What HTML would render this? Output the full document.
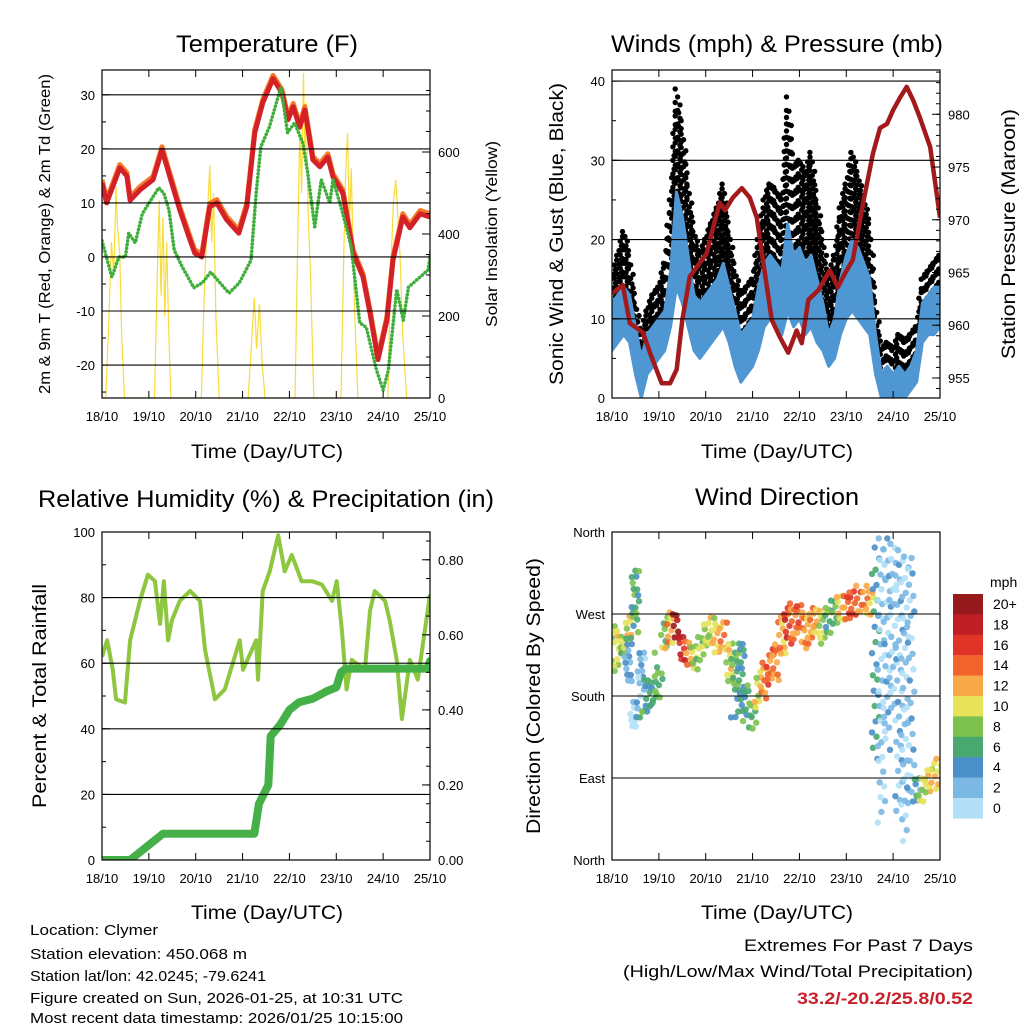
<!DOCTYPE html>
<html><head><meta charset="utf-8"><style>
html,body{margin:0;padding:0;background:#fff;}
svg{display:block;font-family:"Liberation Sans",Arial,sans-serif;}
</style></head><body>
<svg id="chart" width="1024" height="1024" viewBox="0 0 1024 1024" xmlns="http://www.w3.org/2000/svg">
<defs>
<clipPath id="c1"><rect x="102" y="70" width="328" height="328"/></clipPath>
<clipPath id="c2"><rect x="612" y="70" width="328" height="328"/></clipPath>
<clipPath id="c3"><rect x="102" y="532" width="328" height="328"/></clipPath>
<clipPath id="c4"><rect x="612" y="532" width="328" height="328"/></clipPath>
</defs>
<rect width="1024" height="1024" fill="#fff"/>
<g id="layer"></g>
<text x="267" y="52" font-size="24" text-anchor="middle" textLength="182" lengthAdjust="spacingAndGlyphs">Temperature (F)</text>
<text x="777" y="52" font-size="24" text-anchor="middle" textLength="332" lengthAdjust="spacingAndGlyphs">Winds (mph) &amp; Pressure (mb)</text>
<text x="266" y="507" font-size="24" text-anchor="middle" textLength="456" lengthAdjust="spacingAndGlyphs">Relative Humidity (%) &amp; Precipitation (in)</text>
<text x="777" y="505" font-size="24" text-anchor="middle" textLength="164" lengthAdjust="spacingAndGlyphs">Wind Direction</text>
<text transform="translate(50,234) rotate(-90)" font-size="16" text-anchor="middle" textLength="320" lengthAdjust="spacingAndGlyphs">2m &amp; 9m T (Red, Orange) &amp; 2m Td (Green)</text>
<text transform="translate(497,234) rotate(-90)" font-size="16" text-anchor="middle" textLength="186" lengthAdjust="spacingAndGlyphs">Solar Insolation (Yellow)</text>
<text transform="translate(563,234) rotate(-90)" font-size="19" text-anchor="middle" textLength="302" lengthAdjust="spacingAndGlyphs">Sonic Wind &amp; Gust (Blue, Black)</text>
<text transform="translate(1015,234) rotate(-90)" font-size="19" text-anchor="middle" textLength="250" lengthAdjust="spacingAndGlyphs">Station Pressure (Maroon)</text>
<text transform="translate(46,696) rotate(-90)" font-size="19" text-anchor="middle" textLength="224" lengthAdjust="spacingAndGlyphs">Percent &amp; Total Rainfall</text>
<text transform="translate(540,696) rotate(-90)" font-size="19" text-anchor="middle" textLength="276" lengthAdjust="spacingAndGlyphs">Direction (Colored By Speed)</text>
<text x="267" y="458" font-size="19" text-anchor="middle" textLength="152" lengthAdjust="spacingAndGlyphs">Time (Day/UTC)</text>
<text x="777" y="458" font-size="19" text-anchor="middle" textLength="152" lengthAdjust="spacingAndGlyphs">Time (Day/UTC)</text>
<text x="267" y="919" font-size="19" text-anchor="middle" textLength="152" lengthAdjust="spacingAndGlyphs">Time (Day/UTC)</text>
<text x="777" y="919" font-size="19" text-anchor="middle" textLength="152" lengthAdjust="spacingAndGlyphs">Time (Day/UTC)</text>
<g font-size="15">
<text x="30" y="935" textLength="128" lengthAdjust="spacingAndGlyphs">Location: Clymer</text>
<text x="30" y="959" textLength="217" lengthAdjust="spacingAndGlyphs">Station elevation: 450.068 m</text>
<text x="30" y="981" textLength="236" lengthAdjust="spacingAndGlyphs">Station lat/lon: 42.0245; -79.6241</text>
<text x="30" y="1003" textLength="373" lengthAdjust="spacingAndGlyphs">Figure created on Sun, 2026-01-25, at 10:31 UTC</text>
<text x="30" y="1023" textLength="373" lengthAdjust="spacingAndGlyphs">Most recent data timestamp: 2026/01/25 10:15:00</text>
</g>
<g font-size="17" text-anchor="end">
<text x="973" y="951" textLength="229" lengthAdjust="spacingAndGlyphs">Extremes For Past 7 Days</text>
<text x="973" y="977" textLength="350" lengthAdjust="spacingAndGlyphs">(High/Low/Max Wind/Total Precipitation)</text>
<text x="973" y="1004" font-weight="bold" fill="#c8202a" textLength="176" lengthAdjust="spacingAndGlyphs">33.2/-20.2/25.8/0.52</text>
</g>
<g id="cbar"></g>
</svg>
<script>
// ---------- DATA ----------
const dayLabels = ["18/10","19/10","20/10","21/10","22/10","23/10","24/10","25/10"];
const tempDays = [0,0.1,0.38,0.53,0.6,0.81,1.09,1.28,1.45,1.66,1.88,1.98,2.13,2.3,2.45,2.66,2.92,3.09,3.26,3.43,3.65,3.84,3.97,4.08,4.22,4.33,4.5,4.65,4.82,4.93,5.14,5.36,5.57,5.72,5.89,6.08,6.21,6.42,6.57,6.79,7.0];
const tempVals = [13.7,10,16.5,15,10.5,12.4,14.3,19.8,14.8,8.7,3.1,0.7,0,9.3,10,6.9,4.4,9.3,23,28.5,33,30.4,25.4,27.8,24,27.2,18,16.7,18.5,14.8,11.8,0.7,-3.7,-10.4,-19,-11.7,-0.6,7.4,5.4,8,7.4];
const dewDays = [0,0.21,0.36,0.5,0.57,0.71,0.86,1.21,1.32,1.43,1.54,1.71,1.96,2.14,2.32,2.5,2.71,2.93,3.18,3.29,3.39,3.57,3.82,3.96,4.11,4.29,4.39,4.54,4.68,4.86,4.93,5.14,5.32,5.5,5.64,5.86,6.0,6.11,6.29,6.43,6.54,6.79,6.96,7.05];
const dewVals = [3,-3.7,0,0,4.4,2.6,8,12.8,11.8,8.7,1.3,-1.8,-5.7,-4.8,-2.8,-4.6,-6.7,-4.8,-0.6,11.8,20.4,24,31.5,23,24.8,21,15.6,5.6,14.3,10,14.3,8,1.9,-12.2,-13,-21,-24.6,-21,-6,-11.7,-5.6,-3.7,-2.4,3];
const solarDays = [0,0.08,0.15,0.2,0.25,0.3,0.33,0.38,0.42,0.48,1.12,1.18,1.22,1.26,1.3,1.34,1.38,1.42,1.47,2.12,2.18,2.25,2.3,2.34,2.38,2.43,2.5,3.12,3.2,3.25,3.3,3.36,3.42,3.48,4.12,4.18,4.22,4.26,4.3,4.33,4.36,4.4,4.45,4.52,5.1,5.16,5.2,5.24,5.28,5.32,5.38,5.46,6.1,6.16,6.22,6.27,6.31,6.36,6.42,6.5,7];
const solarVals = [0,0,200,380,300,515,420,350,150,0,0,300,483,250,440,200,380,180,0,0,250,450,568,380,500,200,0,0,150,244,120,230,80,0,0,400,650,500,793,600,720,450,300,0,0,350,550,646,420,560,250,0,0,300,480,532,450,350,150,0,0];
const pressDays = [0,0.23,0.38,0.66,0.81,1.06,1.24,1.38,1.5,1.66,1.84,2.02,2.16,2.3,2.41,2.58,2.77,2.94,3.09,3.22,3.41,3.58,3.76,3.94,4.05,4.19,4.4,4.65,4.82,4.97,5.14,5.36,5.57,5.72,5.87,6.0,6.15,6.29,6.43,6.57,6.79,7.0];
const pressVals = [963,963.8,960.2,959.3,957.4,954.5,954.5,955.8,960.5,964.6,965.7,966.8,969.3,971.6,970.9,972.1,973,972.1,970.2,966.2,960.5,958.9,957.4,959.5,958.3,962.4,963.3,965.2,963.6,964.9,966.2,971.6,976.3,978.7,979.1,980.4,981.6,982.6,981.3,979.7,976.9,970.2];
const windLo = [6,7,8,7,3,0,3,4,5,6,9,14,12,9,6,5,6,7,8,9,7,4,2,3,4,6,9,10,9,8,11,9,10,8,9,7,6,4,5,8,10,11,10,9,8,3,0,0,0,0,0,1,2,7,8,8,9];
const windHi = [12,13,14,13,9,5,8,9,10,11,16,26,23,18,13,12,13,14,15,17,14,11,8,9,10,14,17,18,17,16,22,18,19,17,18,15,12,8,10,15,18,20,19,17,15,8,3,4,3,4,3,4,6,12,13,14,14];
const windGust = [15,18,21,18,12,8,11,13,14,17,25,39,34,27,21,18,20,22,24,27,21,16,13,14,15,20,25,27,26,25,38,29,30,28,31,25,20,15,18,24,27,31,28,25,22,12,6,7,6,8,7,8,9,15,16,17,18];
const rhDays = [0,0.11,0.23,0.30,0.49,0.60,0.81,0.98,1.13,1.24,1.32,1.41,1.49,1.66,1.88,2.09,2.20,2.41,2.62,2.94,3.01,3.29,3.33,3.43,3.58,3.76,3.90,4.05,4.26,4.48,4.69,4.91,5.01,5.12,5.22,5.33,5.61,5.72,5.82,6.04,6.14,6.29,6.40,6.57,6.74,7.0];
const rhVals = [62,67,58,49,48,67,79,87,85,72,85,67,73,79,82,79,64,49,52,67,58,67,55,82,88,99,88,93,85,85,84,79,85,70,52,61,58,76,82,79,73,61,43,61,55,81];
const precipDays = [0,0.6,0.8,1.0,1.2,1.3,3.25,3.35,3.55,3.6,3.8,4.0,4.2,4.5,4.8,5.0,5.1,5.2,6.95,7.0];
const precipVals = [0,0,0.02,0.04,0.06,0.07,0.07,0.15,0.2,0.33,0.36,0.40,0.42,0.43,0.45,0.46,0.50,0.51,0.51,0.53];
const dirCenter = [240,235,230,250,260,190,180,185,195,250,255,260,235,230,225,235,250,255,245,250,220,210,200,175,160,190,200,215,220,250,260,265,270,255,260,265,260,265,275,280,280,285,290,290,285,230,200,240,260,200,180,200,80,80,90,95,100];
const dirSpread = [15,15,15,20,60,40,20,15,15,15,15,10,10,10,10,10,10,12,12,12,20,20,40,15,10,15,15,15,15,20,15,15,10,15,15,10,15,10,10,10,10,10,8,8,10,110,150,110,90,140,150,130,10,10,10,8,8];
const speedLabels = ["20+","18","16","14","12","10","8","6","4","2","0"];
const speedColors = ["#961a1c","#be1e24","#e03428","#f0632b","#f7a947","#e6e35a","#7dc24f","#48a870","#4a8fc8","#7bb8e3","#b3e0f7"];

// ---------- HELPERS ----------
const NS="http://www.w3.org/2000/svg";
const layer=document.getElementById('layer');
function mk(tag,attrs,parent){const e=document.createElementNS(NS,tag);for(const k in attrs)e.setAttribute(k,attrs[k]);(parent||layer).appendChild(e);return e;}
function lin(d0,d1,r0,r1){return v=>r0+(v-d0)*(r1-r0)/(d1-d0);}
function pts(xs,ys,fx,fy){return xs.map((d,i)=>fx(d).toFixed(2)+","+fy(ys[i]).toFixed(2)).join(" ");}

function frame(x0,y0,name){
  const r=mk('rect',{x:x0,y:y0,width:328,height:328,fill:'none',stroke:'#000','stroke-width':1.2});
  
  
  const fx=lin(0,7,x0,x0+328);
  for(let d=0;d<=7;d++){
    const t=mk('line',{x1:fx(d),x2:fx(d),y1:y0,y2:y0+7,stroke:'#000','stroke-width':1});
    
    
    const b=mk('line',{x1:fx(d),x2:fx(d),y1:y0+328,y2:y0+321,stroke:'#000','stroke-width':1});
    
    
    const l=mk('text',{x:fx(d),y:y0+351,'font-size':13,'text-anchor':'middle'});
    
    
    l.textContent=dayLabels[d];
  }
  return fx;
}
function yAxis(x0,y0,fy,majors,minors,labels,side,grid,name){
  const xe= side==='left'?x0:x0+328, dir= side==='left'?1:-1;
  minors.forEach(v=>{const t=mk('line',{x1:xe,x2:xe+dir*4,y1:fy(v),y2:fy(v),stroke:'#000'});
    
    });
  majors.forEach((v,i)=>{
    if(grid){const g=mk('line',{x1:x0,x2:x0+328,y1:fy(v),y2:fy(v),stroke:'#000','stroke-width':1.1});
      
      }
    const t=mk('line',{x1:xe,x2:xe+dir*8,y1:fy(v),y2:fy(v),stroke:'#000'});
    
    
    const l=mk('text',{x: side==='left'?xe-7:xe+8,y:fy(v)+5,'font-size':13,'text-anchor': side==='left'?'end':'start'});
    
    
    l.textContent=labels[i];
  });
}
function range(a,b,s){const r=[];for(let v=a;v<=b+1e-9;v+=s)r.push(+v.toFixed(4));return r;}
function interp(arr,i,f){const j=Math.min(arr.length-1,i+1);return arr[i]+(arr[j]-arr[i])*f;}

// ---------- PANEL 1 ----------
(function(){
  const fx=lin(0,7,102,430), fy=lin(-26.1,34.6,398,70), fs=lin(0,800,398,70);
  const g=mk('g',{'clip-path':'url(#c1)'});
  
  
  yAxis(102,70,fy,[-20,-10,0,10,20,30],range(-25,30,5),["-20","-10","0","10","20","30"],'left',true,'temp');
  yAxis(102,70,fs,[0,200,400,600],range(0,750,50),["0","200","400","600"],'right',false,'solar');
  const s=mk('polyline',{points:pts(solarDays,solarVals,fx,fs),fill:'none',stroke:'#f8dc3a','stroke-width':1.2},g);
  
  
  const o=mk('polyline',{points:pts(tempDays,tempVals.map(v=>v+0.6),fx,fy),fill:'none',stroke:'#f47a2a','stroke-width':5,'stroke-linejoin':'round'},g);
  
  
  const r=mk('polyline',{points:pts(tempDays,tempVals,fx,fy),fill:'none',stroke:'#d42127','stroke-width':5,'stroke-linejoin':'round'},g);
  
  
  const d=mk('polyline',{points:pts(dewDays,dewVals,fx,fy),fill:'none',stroke:'#3fae3c','stroke-width':3.6,'stroke-dasharray':'0.1 3.6','stroke-linecap':'round','stroke-linejoin':'round'},g);
  
  
  frame(102,70,'temperature');
})();

// ---------- PANEL 2 ----------
(function(){
  const fx=lin(0,7,612,940), fy=lin(0,41.4,398,70), fp=lin(953.1,984.2,398,70);
  const g=mk('g',{'clip-path':'url(#c2)'});
  
  
  yAxis(612,70,fy,[0,10,20,30,40],range(0,40,5),["0","10","20","30","40"],'left',true,'wind');
  yAxis(612,70,fp,[955,960,965,970,975,980],range(954,984,1),["955","960","965","970","975","980"],'right',false,'pressure');
  const gg=mk('g',{fill:'#000'},g);
  
  
  for(let i=0;i<windLo.length;i++){
    const subs = i===windLo.length-1?1:5;
    for(let s=0;s<subs;s++){
      const f=s/5, hi=interp(windHi,i,f)-1, gu=interp(windGust,i,f);
      const x=fx((i+f)/8);
      let k=0;
      for(let v=gu; v>=hi; v-=1.7){
        const c=mk('circle',{cx:(x+((k*3+s)%3-1)*1.2).toFixed(1),cy:fy(v).toFixed(1),r:2.7},gg);
        
        
        k++;
      }
    }
  }
  const days=windLo.map((v,i)=>i/8);
  const bp=days.map((d,i)=>fx(d).toFixed(2)+","+fy(windHi[i]).toFixed(2)).join(" ")+" "+days.slice().reverse().map((d,j)=>{const i=days.length-1-j;return fx(d).toFixed(2)+","+fy(windLo[i]).toFixed(2);}).join(" ");
  const w=mk('polygon',{points:bp,fill:'#4f97d3',stroke:'#4f97d3','stroke-width':3,'stroke-linejoin':'round'},g);
  
  
  const p=mk('polyline',{points:pts(pressDays,pressVals,fx,fp),fill:'none',stroke:'#a31a1d','stroke-width':4.5,'stroke-linejoin':'round'},g);
  
  
  frame(612,70,'winds');
})();

// ---------- PANEL 3 ----------
(function(){
  const fx=lin(0,7,102,430), fy=lin(0,100,860,532), fp=lin(0,0.874,860,532);
  const g=mk('g',{'clip-path':'url(#c3)'});
  
  
  yAxis(102,532,fy,[0,20,40,60,80,100],range(0,100,10),["0","20","40","60","80","100"],'left',true,'rh');
  yAxis(102,532,fp,[0,0.2,0.4,0.6,0.8],range(0,0.85,0.05),["0.00","0.20","0.40","0.60","0.80"],'right',false,'precip');
  const r=mk('polyline',{points:pts(rhDays,rhVals,fx,fy),fill:'none',stroke:'#8dc63f','stroke-width':4,'stroke-linejoin':'round'},g);
  
  
  const p=mk('polyline',{points:pts(precipDays,precipVals,fx,fp),fill:'none',stroke:'#45b048','stroke-width':8,'stroke-linejoin':'round','stroke-linecap':'round'},g);
  
  
  frame(102,532,'humidity');
})();

// ---------- PANEL 4 ----------
(function(){
  const fx=lin(0,7,612,940), fy=lin(0,360,860,532);
  const g=mk('g',{'clip-path':'url(#c4)'});
  
  
  yAxis(612,532,fy,[0,90,180,270,360],[],["North","East","South","West","North"],'left',false,'direction');
  [90,180,270].forEach(v=>{const l=mk('line',{x1:612,x2:940,y1:fy(v),y2:fy(v),stroke:'#000','stroke-width':1.1});
    
    });
  function col(s){const idx=Math.min(10,Math.max(0,Math.floor(s/2)));return speedColors[10-idx];}
  dirCenter.forEach((c,i)=>{
    const sp=(windLo[i]+windHi[i])/2;
    const wide=dirSpread[i]>60;
    const n=Math.max(2,Math.round(dirSpread[i]/(wide?9:4)));
    for(let k=-n;k<=n;k++){
      const dv=c+k*dirSpread[i]/n + ((k*7)%5-2)*1.5;
      const jx=((k*13+i*5)%9-4)*0.9;
      const e=mk('circle',{cx:(fx(i/8)+jx).toFixed(1),cy:fy(dv).toFixed(1),r:3.2,fill:col(sp+((k+i)%4)-1),opacity:0.9},g);
      
      
    }
  });
  frame(612,532,'direction');
  const cb=document.getElementById('cbar');
  speedColors.forEach((c,i)=>{
    const r=mk('rect',{x:953,y:594+i*20.4,width:30,height:20.6,fill:c},cb);
    
    
    const t=mk('text',{x:993,y:594+i*20.4+15,'font-size':14},cb);
    
    
    t.textContent=speedLabels[i];
  });
  const u=mk('text',{x:990,y:587,'font-size':14},cb);
  
  
  u.textContent='mph';
})();
</script>
</body></html>
